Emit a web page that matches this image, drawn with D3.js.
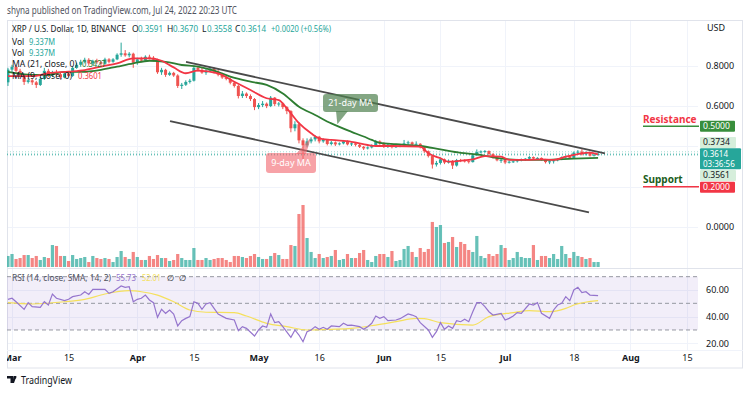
<!DOCTYPE html>
<html><head><meta charset="utf-8">
<script src="https://cdn.jsdelivr.net/npm/d3@7"></script>
<style>
body{margin:0;background:#fff;}
svg{display:block;font-family:"Noto Sans","DejaVu Sans",sans-serif;}
</style>
</head><body>
<svg id="c" width="750" height="393"></svg>
<script>
// ---------- DATA (daily candles from 2022-02-28, index 0) ----------
const startDate = Date.UTC(2022,1,28);
const opens = [0.718,0.781,0.795,0.775,0.752,0.720,0.728,0.718,0.705,0.735,
0.775,0.752,0.765,0.758,0.742,0.762,0.750,0.790,0.805,0.820,
0.830,0.812,0.825,0.818,0.810,0.832,0.820,0.832,0.855,0.862,
0.852,0.860,0.815,0.832,0.826,0.845,0.840,0.830,0.768,0.780,
0.755,0.765,0.752,0.700,0.706,0.720,0.726,0.790,0.780,0.766,
0.776,0.786,0.770,0.756,0.742,0.735,0.716,0.700,0.650,0.662,
0.650,0.635,0.595,0.605,0.612,0.600,0.642,0.610,0.613,0.595,
0.575,0.490,0.510,0.430,0.405,0.425,0.435,0.448,0.425,0.432,
0.412,0.420,0.410,0.415,0.425,0.410,0.415,0.408,0.398,0.390,
0.395,0.405,0.425,0.415,0.398,0.408,0.396,0.401,0.404,0.415,
0.420,0.410,0.413,0.396,0.376,0.352,0.310,0.318,0.336,0.320,
0.328,0.305,0.332,0.330,0.327,0.322,0.356,0.372,0.375,0.377,
0.362,0.346,0.331,0.333,0.320,0.324,0.326,0.333,0.336,0.339,
0.347,0.340,0.343,0.335,0.322,0.326,0.331,0.336,0.346,0.351,
0.343,0.369,0.374,0.361,0.367,0.354,0.3591];
const highs = [0.790,0.805,0.800,0.785,0.760,0.740,0.735,0.725,0.745,0.790,
0.785,0.775,0.780,0.765,0.772,0.770,0.795,0.815,0.830,0.840,
0.838,0.830,0.835,0.825,0.840,0.838,0.838,0.862,0.915,0.878,
0.868,0.865,0.840,0.845,0.852,0.855,0.848,0.835,0.790,0.785,
0.772,0.770,0.758,0.715,0.728,0.735,0.800,0.798,0.790,0.785,
0.795,0.792,0.780,0.765,0.750,0.742,0.722,0.705,0.675,0.668,
0.658,0.640,0.615,0.625,0.618,0.650,0.645,0.620,0.618,0.600,
0.580,0.525,0.520,0.440,0.440,0.445,0.455,0.452,0.440,0.436,
0.428,0.425,0.420,0.432,0.430,0.420,0.418,0.412,0.402,0.400,
0.410,0.432,0.430,0.420,0.412,0.410,0.405,0.408,0.432,0.428,
0.424,0.425,0.416,0.400,0.380,0.356,0.328,0.345,0.340,0.335,
0.332,0.338,0.338,0.336,0.330,0.362,0.385,0.380,0.382,0.380,
0.366,0.350,0.338,0.336,0.328,0.330,0.338,0.340,0.342,0.352,
0.350,0.346,0.345,0.338,0.330,0.335,0.340,0.350,0.355,0.354,
0.375,0.382,0.386,0.375,0.372,0.362,0.3670];
const lows = [0.700,0.765,0.765,0.745,0.705,0.712,0.705,0.690,0.700,0.730,
0.745,0.745,0.750,0.735,0.738,0.745,0.745,0.785,0.795,0.812,
0.800,0.805,0.810,0.800,0.805,0.812,0.815,0.828,0.845,0.845,
0.842,0.790,0.805,0.818,0.820,0.832,0.822,0.760,0.755,0.745,
0.750,0.745,0.690,0.685,0.700,0.712,0.722,0.772,0.760,0.755,
0.770,0.762,0.748,0.735,0.728,0.708,0.692,0.638,0.640,0.640,
0.625,0.580,0.585,0.595,0.590,0.595,0.600,0.598,0.585,0.560,
0.470,0.475,0.415,0.330,0.395,0.415,0.425,0.415,0.418,0.405,
0.405,0.402,0.405,0.410,0.405,0.402,0.400,0.392,0.382,0.385,
0.390,0.400,0.408,0.392,0.392,0.390,0.392,0.396,0.400,0.408,
0.402,0.405,0.390,0.368,0.345,0.290,0.300,0.310,0.312,0.315,
0.288,0.300,0.322,0.320,0.315,0.320,0.352,0.365,0.368,0.355,
0.340,0.326,0.318,0.312,0.315,0.318,0.320,0.326,0.328,0.335,
0.335,0.336,0.330,0.315,0.312,0.315,0.326,0.332,0.340,0.338,
0.340,0.362,0.355,0.355,0.350,0.350,0.3558];
const closes = [0.781,0.795,0.775,0.752,0.720,0.728,0.718,0.705,0.735,0.775,
0.752,0.765,0.758,0.742,0.762,0.750,0.790,0.805,0.820,0.830,
0.812,0.825,0.818,0.810,0.832,0.820,0.832,0.855,0.862,0.852,
0.860,0.815,0.832,0.826,0.845,0.840,0.830,0.768,0.780,0.755,
0.765,0.752,0.700,0.706,0.720,0.726,0.790,0.780,0.766,0.776,
0.786,0.770,0.756,0.742,0.735,0.716,0.700,0.650,0.662,0.650,
0.635,0.595,0.605,0.612,0.600,0.642,0.610,0.613,0.595,0.575,
0.490,0.510,0.430,0.405,0.425,0.435,0.448,0.425,0.432,0.412,
0.420,0.410,0.415,0.425,0.410,0.415,0.408,0.398,0.390,0.395,
0.405,0.425,0.415,0.398,0.408,0.396,0.401,0.404,0.415,0.420,
0.410,0.413,0.396,0.376,0.352,0.310,0.318,0.336,0.320,0.328,
0.305,0.332,0.330,0.327,0.322,0.356,0.372,0.375,0.377,0.362,
0.346,0.331,0.333,0.320,0.324,0.326,0.333,0.336,0.339,0.347,
0.340,0.343,0.335,0.322,0.326,0.331,0.336,0.346,0.351,0.343,
0.369,0.374,0.361,0.367,0.354,0.3591,0.3614];
const volumes = [20.6,24.3,15.0,16.8,22.4,22.4,16.8,20.6,13.1,18.7,
16.8,41.1,39.3,20.6,20.6,11.2,22.4,15.0,16.8,18.7,
9.3,20.6,16.8,15.0,16.8,15.0,9.3,18.7,29.9,18.7,
15.0,28.1,18.7,13.1,13.1,20.6,15.0,22.4,16.8,16.8,
11.2,13.1,24.3,16.8,13.1,13.1,35.5,13.1,13.1,16.8,
13.1,15.0,16.8,16.8,13.1,9.3,20.6,20.6,18.7,16.8,
20.6,24.3,18.7,15.0,15.0,20.6,26.2,22.4,15.0,15.0,
41.1,39.3,99.1,115.9,54.2,28.1,16.8,24.3,16.8,18.7,
20.6,31.8,13.1,15.0,24.3,16.8,16.8,26.2,31.8,13.1,
9.3,20.6,24.3,24.3,18.7,29.9,11.2,13.1,33.7,39.3,
28.1,18.7,35.5,28.1,33.7,84.2,74.8,78.5,44.9,46.8,
56.1,37.4,46.8,43.0,31.8,28.1,58.0,20.6,16.8,24.3,
20.6,24.3,41.1,35.5,13.1,16.8,28.1,18.7,16.8,16.8,
41.1,13.1,20.6,20.6,16.8,24.3,15.0,39.3,24.3,16.8,
28.1,20.6,18.7,15.0,16.8,9.3,9.337];
// Moving averages (day index, value)
const ma21Idx = [0,6,10,14,18,23,27,31,35,39,43,47,51,55,60,64,68,72,76,80,85,88,90,92,96,102,107,112,116,120,124,128,132,136,140,146];
const ma21Val = [0.770,0.755,0.755,0.770,0.770,0.780,0.796,0.812,0.825,0.820,0.804,0.796,0.776,0.746,0.721,0.705,0.663,0.597,0.556,0.514,0.472,0.449,0.432,0.418,0.411,0.402,0.385,0.368,0.360,0.346,0.336,0.333,0.333,0.336,0.339,0.3427];
const ma9Idx = [0,6,10,15,19,23,27,31,35,38,41,44,47,52,56,60,64,67,69,72,75,77,80,85,89,91,95,102,104,107,109,112,115,118,122,124,128,132,135,138,141,144,146];
const ma9Val = [0.749,0.749,0.763,0.771,0.779,0.796,0.812,0.837,0.837,0.825,0.792,0.763,0.776,0.763,0.721,0.680,0.639,0.630,0.589,0.515,0.465,0.440,0.432,0.423,0.407,0.402,0.402,0.399,0.366,0.341,0.324,0.329,0.336,0.352,0.349,0.333,0.333,0.336,0.333,0.349,0.362,0.369,0.3601];
// RSI(14) and its SMA
const rsiIdx = [0,1,2,4,5,6,8,9,10,11,12,14,15,16,18,19,20,21,23,24,25,26,28,29,30,31,32,33,34,35,36,37,38,39,40,41,42,43,44,45,46,47,48,49,50,51,52,54,56,57,58,59,61,62,63,64,65,66,67,68,70,71,72,73,74,75,76,77,78,79,80,82,83,84,85,87,88,89,90,91,92,93,94,96,97,99,100,101,102,104,105,106,107,108,109,110,111,112,113,114,115,116,117,118,119,120,122,123,124,125,126,127,129,130,131,132,134,135,136,137,138,139,140,141,142,143,144,146];
const rsiVal = [53,53.8,51.2,45.5,50.5,47.5,47,51.2,48.7,57,53.8,52,53,55,56.2,58.7,56.7,60.5,60.5,60.5,57.5,58.7,63,62,62.5,51.2,53,53.8,56.2,52.5,50.5,39.5,45.5,42.5,45,42,33,37,38.7,40,51.2,50,45.5,49.5,50.5,46.2,42,38.7,37.5,29.5,32.5,31.2,25.5,30,33,32,42,35.5,36.2,32.5,24.5,30,26.2,21.2,28.7,30,32.5,30.5,32,30.5,33,32.5,35,33.5,33.7,32.5,30.5,32.5,35,40.5,38.7,40,37,37.5,38.5,42,41.2,40,35.5,30,24.5,28.7,35.5,30.5,33,31.2,37,36.2,38,36.2,43.7,50.5,50.5,47.5,43.7,41.2,42.5,37.5,38.7,40.5,43,42.5,49.5,48.7,50.5,42.5,38.7,45,48.7,50,55,52,60,62,58,58.7,56.2,55.73];
const rsiMaIdx = [0,6,14,19,24,30,33,37,41,45,49,56,59,64,69,74,80,85,91,96,101,103,107,115,119,125,129,134,138,140,146];
const rsiMaVal = [50.5,49.5,51.2,53,57,59.5,58.7,56.2,51.2,45,43.3,43,40.5,35,32.5,30,30.5,31.2,33.7,36.2,38.7,38.5,35.5,33.7,40,43,44.5,43.7,46.2,48.7,52.01];
// Axis ticks
const tickDates = [[2022,2,1],[2022,2,15],[2022,3,1],[2022,3,15],[2022,4,1],[2022,4,16],[2022,5,1],[2022,5,15],[2022,6,1],[2022,6,18],[2022,7,1],[2022,7,15]];
const tickLabels = ["Mar","15","Apr","15","May","16","Jun","15","Jul","18","Aug","15"];
const priceTicks = [0,0.6,0.8];
const rsiTicks = [20,40,60];
// Drawings (day index, price)
const channelUpper = [[44.05,0.819],[147.7,0.365]];
const channelLower = [[40.1,0.526],[143.75,0.073]];
const resistance = 0.5, support = 0.2;
const lastClose = 0.3614, dayHigh = 0.3734, dayLow = 0.3561;

// ---------- CHART ----------
const svg = d3.select("#c");
const UP="#26a69a", DN="#ef5350";
const day = i => new Date(startDate + i*864e5);
const x = d3.scaleUtc().domain([new Date(Date.UTC(2022,2,1)), new Date(Date.UTC(2022,7,15))]).range([12,687]);
const y = d3.scaleLinear().domain([0,0.8]).range([227,65.8]);
const yv = d3.scaleLinear().domain([0,d3.max(volumes)]).range([267,205]);
const yr = d3.scaleLinear().domain([20,60]).range([343.3,290]);
const L=7, R=698, PT=20, PB=268, RT=268, RB=350;

const defs = svg.append("defs");
defs.append("clipPath").attr("id","pc").append("rect").attr("x",L).attr("y",PT).attr("width",R-L).attr("height",PB-PT);
defs.append("clipPath").attr("id","rc").append("rect").attr("x",L).attr("y",RT).attr("width",R-L).attr("height",RB-RT);
defs.append("clipPath").attr("id","ac").append("rect").attr("x",L).attr("y",0).attr("width",R-L+40).attr("height",18);

// header
svg.append("text").attr("x",7).attr("y",13.5).attr("font-size",10).attr("fill","#50535e")
  .attr("textLength",230).attr("lengthAdjust","spacingAndGlyphs")
  .text("shyna published on TradingView.com, Jul 24, 2022 20:23 UTC");

// frame
svg.append("rect").attr("x",L+0.5).attr("y",PT+0.5).attr("width",735).attr("height",347.5).attr("fill","none").attr("stroke","#e0e3eb");
const tds = tickDates.map(d=>new Date(Date.UTC(d[0],d[1],d[2])));
// grid
svg.append("g").selectAll("line").data(tds).join("line")
  .attr("x1",d=>Math.round(x(d))+0.5).attr("x2",d=>Math.round(x(d))+0.5).attr("y1",PT+1).attr("y2",RB)
  .attr("stroke","#f0f3fa");
svg.append("g").selectAll("line").data([0,0.2,0.4,0.6,0.8]).join("line")
  .attr("x1",L+1).attr("x2",R).attr("y1",d=>Math.round(y(d))+0.5).attr("y2",d=>Math.round(y(d))+0.5).attr("stroke","#f0f3fa");
svg.append("g").selectAll("line").data(rsiTicks).join("line")
  .attr("x1",L+1).attr("x2",R).attr("y1",d=>Math.round(yr(d))+0.5).attr("y2",d=>Math.round(yr(d))+0.5).attr("stroke","#f0f3fa");
svg.append("line").attr("x1",L).attr("x2",743).attr("y1",PB+0.5).attr("y2",PB+0.5).attr("stroke","#e0e3eb");
svg.append("line").attr("x1",L).attr("x2",743).attr("y1",RB+0.5).attr("y2",RB+0.5).attr("stroke","#f0f3fa");

const idx = d3.range(closes.length);
const pg = svg.append("g").attr("clip-path","url(#pc)");
// volume
pg.append("g").selectAll("rect").data(idx).join("rect")
  .attr("x",i=>x(day(i))-1.6).attr("width",3.2)
  .attr("y",i=>yv(volumes[i])).attr("height",i=>yv(0)-yv(volumes[i]))
  .attr("fill",i=>closes[i]>=opens[i]?UP:DN).attr("opacity",0.7);
// price lines
[[dayHigh,"#a8dcd5"],[dayLow,"#a8dcd5"],[lastClose,"#26a69a"]].forEach(([v,c])=>{
  pg.append("line").attr("x1",L).attr("x2",R).attr("y1",y(v)).attr("y2",y(v))
    .attr("stroke",c).attr("stroke-dasharray","1,2").attr("stroke-width",1);
});
// candles
pg.append("g").selectAll("line").data(idx).join("line")
  .attr("x1",i=>x(day(i))).attr("x2",i=>x(day(i)))
  .attr("y1",i=>y(highs[i])).attr("y2",i=>y(lows[i]))
  .attr("stroke",i=>closes[i]>=opens[i]?UP:DN).attr("stroke-width",1);
pg.append("g").selectAll("rect").data(idx).join("rect")
  .attr("x",i=>x(day(i))-1.5).attr("width",3)
  .attr("y",i=>y(Math.max(opens[i],closes[i])))
  .attr("height",i=>Math.max(1,Math.abs(y(opens[i])-y(closes[i]))))
  .attr("fill",i=>closes[i]>=opens[i]?UP:DN);
// MAs
const maLine = (ix,vals)=>d3.line().x((d,k)=>x(day(ix[k]))).y(d=>y(d)).curve(d3.curveMonotoneX)(vals);
pg.append("path").attr("d",maLine(ma21Idx,ma21Val)).attr("fill","none").attr("stroke","#2e7d32").attr("stroke-width",1.8);
pg.append("path").attr("d",maLine(ma9Idx,ma9Val)).attr("fill","none").attr("stroke","#f23645").attr("stroke-width",1.8);
// channel
[channelUpper,channelLower].forEach(seg=>{
  pg.append("line").attr("x1",x(day(seg[0][0]))).attr("y1",y(seg[0][1]))
    .attr("x2",x(day(seg[1][0]))).attr("y2",y(seg[1][1]))
    .attr("stroke","#4a4a4a").attr("stroke-width",1.8);
});
// resistance / support
svg.append("line").attr("x1",643).attr("x2",699).attr("y1",y(resistance)).attr("y2",y(resistance)).attr("stroke","#388e3c").attr("stroke-width",1.5);
svg.append("text").attr("x",643).attr("y",y(resistance)-3.5).attr("font-size",10).attr("font-weight","bold").attr("fill","#f23645").text("Resistance");
svg.append("line").attr("x1",643).attr("x2",699).attr("y1",y(support)).attr("y2",y(support)).attr("stroke","#f23645").attr("stroke-width",1.5);
svg.append("text").attr("x",643).attr("y",y(support)-4).attr("font-size",10).attr("font-weight","bold").attr("fill","#1b5e20").text("Support");

// callouts
function callout(anchorIdx, anchorVal, box, base, text, fill){
  const ax = x(day(anchorIdx)), ay = y(anchorVal);
  const g = svg.append("g");
  g.append("path").attr("d",`M${base[0]},${base[1]}L${ax},${ay}L${base[2]},${base[3]}Z`).attr("fill",fill);
  g.append("rect").attr("x",box[0]).attr("y",box[1]).attr("width",box[2]).attr("height",box[3]).attr("rx",3).attr("fill",fill);
  g.append("text").attr("x",box[0]+box[2]/2).attr("y",box[1]+box[3]/2+3.3).attr("text-anchor","middle")
    .attr("font-size",9).attr("fill","#fff").text(text);
}
callout(75,0.445,[266,153,50,20],[296,154,306,154],"9-day MA","rgba(242,100,108,0.6)");
callout(81.5,0.51,[323,94,55,18],[336,111,348,111],"21-day MA","rgba(78,128,78,0.7)");

// RSI pane
const rg = svg.append("g").attr("clip-path","url(#rc)");
rg.append("rect").attr("x",L).attr("width",R-L).attr("y",yr(70)).attr("height",yr(30)-yr(70)).attr("fill","rgba(126,87,194,0.1)");
[70,50,30].forEach(v=>rg.append("line").attr("x1",L).attr("x2",R).attr("y1",yr(v)).attr("y2",yr(v))
  .attr("stroke","#9598a1").attr("stroke-dasharray","4,3"));
rg.append("path").attr("d",d3.line().x((d,k)=>x(day(rsiMaIdx[k]))).y(d=>yr(d)).curve(d3.curveMonotoneX)(rsiMaVal))
  .attr("fill","none").attr("stroke","#f5e05c").attr("stroke-width",1.2);
rg.append("path").attr("d",d3.line().x((d,k)=>x(day(rsiIdx[k]))).y(d=>yr(d))(rsiVal))
  .attr("fill","none").attr("stroke","#9575cd").attr("stroke-width",1.2);

// axes
const ax = svg.append("g").attr("transform",`translate(0,${RB})`).attr("clip-path","url(#ac)")
  .call(d3.axisBottom(x).tickValues(tds).tickFormat((d,i)=>tickLabels[i]).tickSize(0).tickPadding(5));
ax.select(".domain").remove();
ax.selectAll("text").attr("font-size",9).attr("fill","#131722").attr("font-family","Noto Sans, sans-serif")
  .attr("font-weight",(d,i)=>/[A-Za-z]/.test(tickLabels[i])?"bold":"normal");
const pa = svg.append("g").attr("transform","translate(700,0)")
  .call(d3.axisRight(y).tickValues(priceTicks).tickFormat(d3.format(".4f")).tickSize(0).tickPadding(6));
pa.select(".domain").remove();
pa.selectAll("text").attr("font-size",9).attr("fill","#131722").attr("font-family","Noto Sans, sans-serif");
const ra = svg.append("g").attr("transform","translate(700,0)")
  .call(d3.axisRight(yr).tickValues(rsiTicks).tickFormat(d3.format(".2f")).tickSize(0).tickPadding(6));
ra.select(".domain").remove();
ra.selectAll("text").attr("font-size",9).attr("fill","#131722").attr("font-family","Noto Sans, sans-serif");
svg.append("text").attr("x",707).attr("y",31).attr("font-size",9).attr("fill","#131722").text("USD");

// price labels
function plabel(yc,h,fill,tc,lines,w,fs){
  svg.append("rect").attr("x",700).attr("y",yc-h/2).attr("width",w).attr("height",h).attr("fill",fill).attr("rx",1);
  lines.forEach((t,k)=>svg.append("text").attr("x",703).attr("y",yc-h/2+8.3+k*10.2).attr("font-size",fs||8.6).attr("fill",tc).text(t));
}
plabel(y(resistance),11,"#388e3c","#fff",[d3.format(".4f")(resistance)],35);
plabel(142.5,11,"#d6eedb","#131722",[d3.format(".4f")(dayHigh)],36);
plabel(158.7,21,"#26a69a","#fff",[d3.format(".4f")(lastClose),"03:36:56"],41,8);
plabel(175.5,11,"#d6eedb","#131722",[d3.format(".4f")(dayLow)],36);
plabel(y(support)+0.5,11,"#f23645","#fff",[d3.format(".4f")(support)],35);

// legends
const lg = svg.append("g").attr("font-size",8.5);
function seg(xp,yp,t,c,tl){const e=lg.append("text").attr("x",xp).attr("y",yp).attr("fill",c).text(t); if(tl) e.attr("textLength",tl).attr("lengthAdjust","spacingAndGlyphs");}
const dark="#131722";
seg(12,32,"XRP / U.S. Dollar, 1D, BINANCE",dark,114);
seg(132,32,"O",dark); seg(138,32,d3.format(".4f")(opens[146]),UP,25);
seg(167,32,"H",dark); seg(173,32,d3.format(".4f")(highs[146]),UP,25);
seg(202,32,"L",dark); seg(207,32,d3.format(".4f")(lows[146]),UP,25);
seg(235,32,"C",dark); seg(241,32,d3.format(".4f")(closes[146]),UP,25);
seg(271,32,"+0.0020 (+0.56%)",UP,60);
seg(12,45,"Vol",dark); seg(29,45,"9.337M",UP,26);
seg(12,56,"Vol",dark); seg(29,56,"9.337M",UP,26);
seg(12,67,"MA (21, close, 0)",dark,65); seg(82,67,d3.format(".4f")(ma21Val[ma21Val.length-1]),"#2e7d32",24);
seg(12,79,"MA (9, close, 0)",dark,60); seg(78,79,d3.format(".4f")(ma9Val[ma9Val.length-1]),"#f23645",24);
seg(12,281,"RSI (14, close, SMA, 14, 2)","#50535e",99);
seg(116,281,d3.format(".2f")(rsiVal[rsiVal.length-1]),"#9575cd",20);
seg(142,281,d3.format(".2f")(rsiMaVal[rsiMaVal.length-1]),"#f5e05c",19);
seg(167,281,"∅",dark); seg(179,281,"∅",dark);

// footer logo
const fg = svg.append("g");
fg.append("path").attr("d","M7,376h6v7h-2.5v-4.5h-3.5z M13.5,376h3l-2.5,7h-1.5z").attr("fill","#131722");
fg.append("circle").attr("cx",15).attr("cy",377.5).attr("r",1.3).attr("fill","#131722");
fg.append("text").attr("x",21).attr("y",384).attr("font-size",10.5).attr("fill","#131722")
  .attr("textLength",51).attr("lengthAdjust","spacingAndGlyphs").text("TradingView");
</script>
</body></html>
